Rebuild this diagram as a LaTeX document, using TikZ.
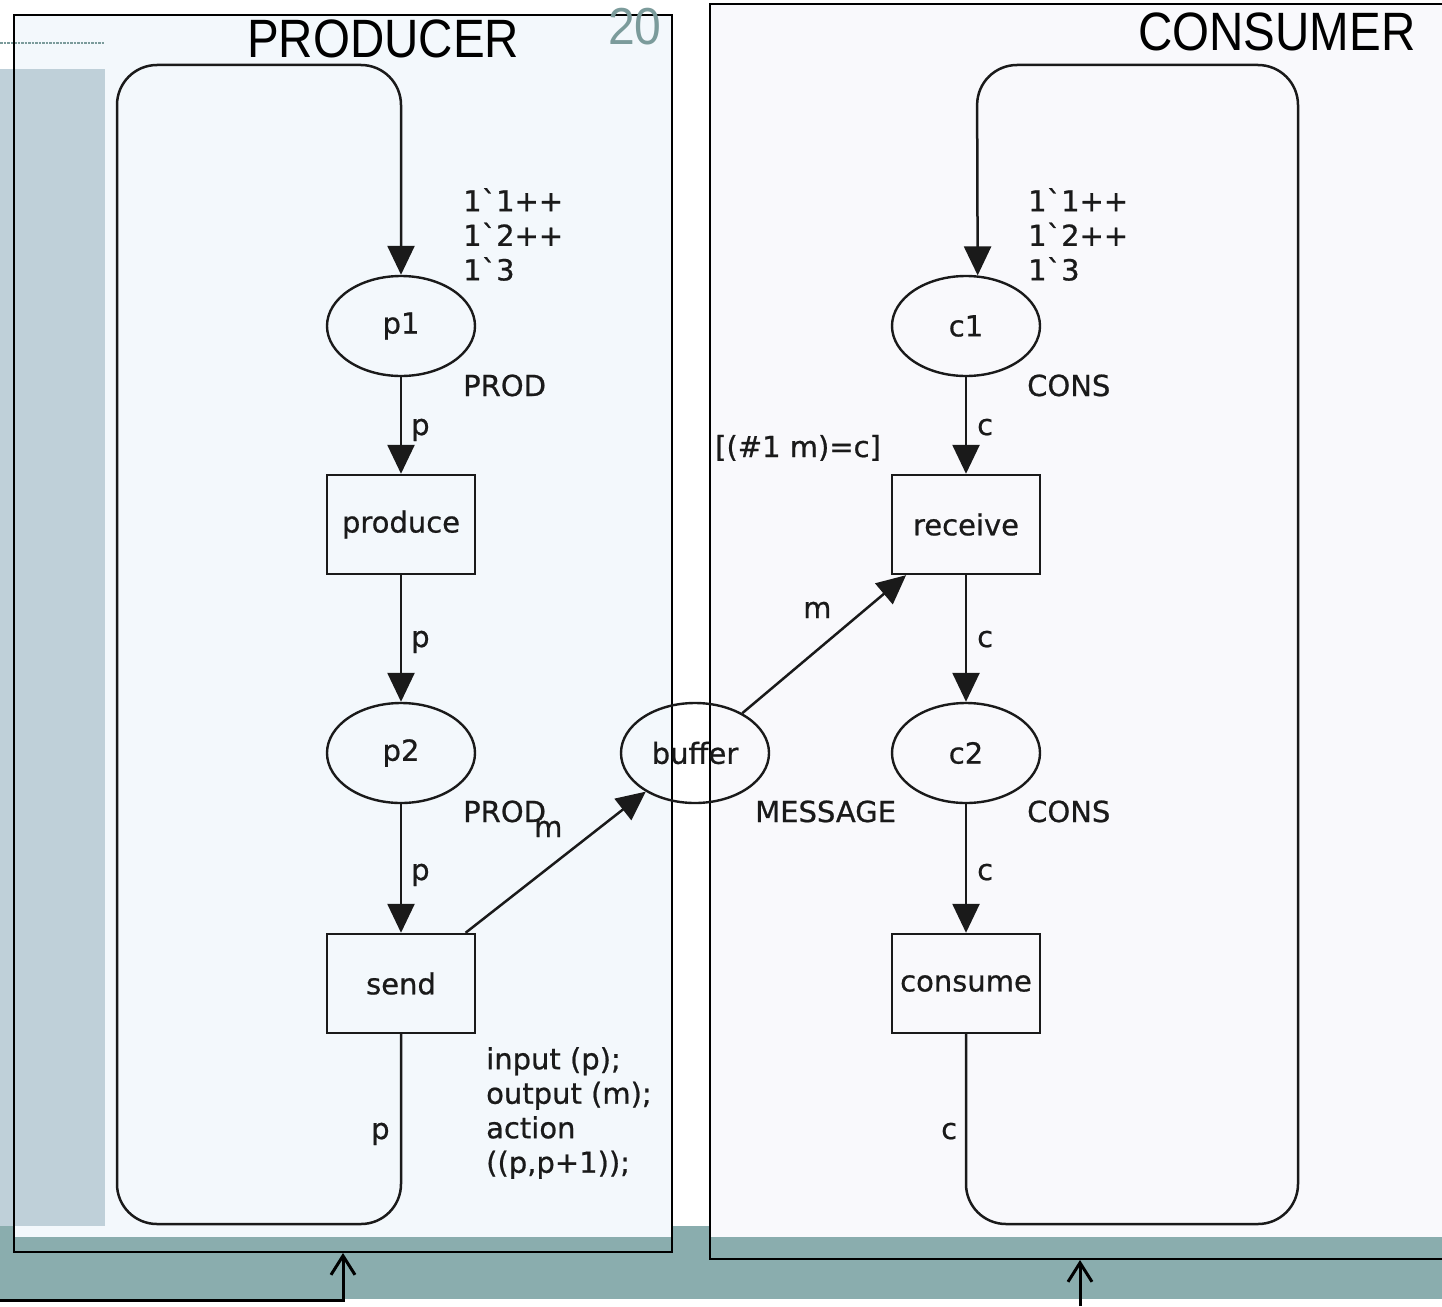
\documentclass[tikz,border=0pt]{standalone}
\usepackage{fontspec}
\newfontfamily\netfont{DejaVu Sans}[Ligatures=TeXOff, FakeBold=0.7]
\newfontfamily\titlefont{Liberation Sans}
\usetikzlibrary{arrows.meta,shapes.geometric}

\definecolor{ink}{HTML}{1A1A1A}
\definecolor{teal}{HTML}{8AADAE}
\definecolor{strip}{HTML}{BFD0D9}
\definecolor{prodbg}{HTML}{F3F8FC}
\definecolor{consbg}{HTML}{F9F9FC}
\definecolor{numcol}{HTML}{7B9B9B}

\tikzset{
  netfnt/.style={font=\netfont\fontsize{29}{34.5}\selectfont, text=ink},
  place/.style={ellipse, draw=ink, line width=2.4pt, minimum width=148pt,
    minimum height=100pt, inner sep=0pt, netfnt},
  trans/.style={rectangle, draw=ink, line width=2.4pt, minimum width=148pt,
    minimum height=99pt, inner sep=0pt, netfnt},
  arc/.style={draw=ink, line width=2.5pt, -{Triangle[length=29pt,width=27pt]}},
  looparc/.style={arc, rounded corners=40pt},
  lab/.style={netfnt, inner sep=0pt, anchor=base west},
  blocklab/.style={netfnt, inner sep=0pt, anchor=north west, align=left},
  frame/.style={draw=black, line width=2pt, inner sep=0pt},
  title/.style={font=\titlefont\fontsize{54}{60}\selectfont, inner sep=0pt,
    anchor=base west, xscale=0.88},
  pointer/.style={draw=black, line width=3pt, -{Straight Barb[length=19pt,width=24pt]}}
}

\begin{document}
\begin{tikzpicture}[x=1pt,y=-1pt]
\useasboundingbox (0,0) rectangle (1442,1306);
\fill[white] (0,0) rectangle (1442,1306);

% background bands and panels
\fill[teal] (0,1226) rectangle (1442,1299);
\fill[prodbg] (14,15) rectangle (672,1237);
\fill[consbg] (710,4) rectangle (1442,1237);
\fill[strip] (0,69) rectangle (105,1226);
\draw[numcol, line width=1.3pt, dash pattern=on 2.5pt off 1pt] (0,43) -- (105,43);

% frames
\node[frame, minimum width=658pt, minimum height=1237pt] (prodbox) at (343,633.5) {};
\node[frame, minimum width=740pt, minimum height=1255pt] (consbox) at (1080,631.5) {};

% titles
\node[title] (ptitle) at (247,57) {PRODUCER};
\node[title] (ctitle) at (1138,51) {CONSUMER};
\node[title, text=numcol, font=\titlefont\fontsize{52}{58}\selectfont, xscale=1.05] (pagenum) at (608,45) {20};

% producer net
\node[place] (p1) at (401,326) {p1};
\node[trans] (produce) at (401,524.5) {produce};
\node[place] (p2) at (401,753) {p2};
\node[trans] (send) at (401,983.5) {send};

% shared place
\node[place] (buffer) at (695,753) {buffer};

% consumer net
\node[place] (c1) at (966,326) {c1};
\node[trans] (receive) at (966,524.5) {receive};
\node[place] (c2) at (966,753) {c2};
\node[trans] (consume) at (966,983.5) {consume};

% loop corners
\coordinate (pTL) at (117,65);
\coordinate (pBL) at (117,1224);
\coordinate (cTR) at (1298,65);
\coordinate (cBR) at (1298,1224);
\coordinate (cTop) at (977,65);

% arcs
\draw[arc] (p1) -- (produce);
\draw[arc] (produce) -- (p2);
\draw[arc] (p2) -- (send);
\draw[arc] (send) -- (buffer);
\draw[arc] (buffer) -- (receive);
\draw[arc] (c1) -- (receive);
\draw[arc] (receive) -- (c2);
\draw[arc] (c2) -- (consume);
\draw[looparc] (send.south) -- (send.south |- pBL) -- (pBL) -- (pTL)
  -- (p1.north |- pTL) -- (p1.north);
\draw[looparc] (consume.south) -- (consume.south |- cBR) -- (cBR) -- (cTR)
  -- (cTop) -- (c1.77.5);

% arc inscriptions
\node[lab] (l1) at (411,435) {p};
\node[lab] (l2) at (411,647) {p};
\node[lab] (l3) at (411,880) {p};
\node[lab] (l4) at (371,1139) {p};
\node[lab] (l5) at (534,837) {m};
\node[lab] (l6) at (803,618) {m};
\node[lab] (l7) at (977,435) {c};
\node[lab] (l8) at (977,647) {c};
\node[lab] (l9) at (977,880) {c};
\node[lab] (l10) at (941,1139) {c};

% colour sets, guard and code
\node[lab] (s1) at (463,396) {PROD};
\node[lab] (s2) at (463,822) {PROD};
\node[lab] (s3) at (1027,396) {CONS};
\node[lab] (s4) at (1027,822) {CONS};
\node[lab] (s5) at (755,822) {MESSAGE};
\node[lab] (guard) at (715,457) {[(\#1 m)=c]};
\node[blocklab] (init1) at (463,188) {1`1++\\1`2++\\1`3};
\node[blocklab] (init2) at (1028,188) {1`1++\\1`2++\\1`3};
\node[blocklab] (code) at (486,1047) {input (p);\\output (m);\\action\\((p,p+1));};

% pointers into the frames
\coordinate (lstart) at (0,1300);
\coordinate (rstart) at (1080,1306);
\draw[pointer] (lstart) -| (prodbox.south);
\draw[pointer] (rstart) -- (consbox.south);
\end{tikzpicture}
\end{document}
